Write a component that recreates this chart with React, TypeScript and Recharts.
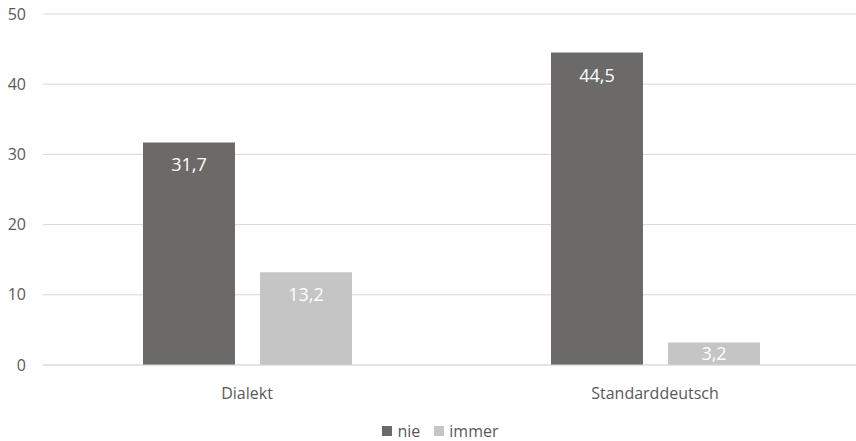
import { Bar, BarChart, CartesianGrid, LabelList, Legend, XAxis, YAxis } from "recharts";

const categories = ["Dialekt", "Standarddeutsch"];
const seriesNames = ["nie", "immer"];
const nieValues = [31.7, 44.5];
const immerValues = [13.2, 3.2];
const yTicks = [0, 10, 20, 30, 40, 50];

const FONT = "'Open Sans', 'Noto Sans', sans-serif";
const TEXT_COLOR = "#595959";
const GRID_COLOR = "#d9d9d9";
const NIE_COLOR = "#6b6a68";
const IMMER_COLOR = "#c4c5c4";

const data = categories.map((name, i) => ({
  name,
  nie: nieValues[i],
  immer: immerValues[i],
}));

const formatDecimal = (value: number) => value.toFixed(1).replace(".", ",");

// Excel-style label: inside end, or centered when the bar is too short
const renderBarLabel = (props: any) => {
  const { x, y, width, height, value } = props;
  const cx = Number(x) + Number(width) / 2;
  const h = Number(height);
  const baseline = h < 40 ? Number(y) + h / 2 + 6.5 : Number(y) + 29;
  return (
    <text
      x={cx}
      y={baseline}
      textAnchor="middle"
      fill="#ffffff"
      fontSize={18}
      fontFamily={FONT}
    >
      {formatDecimal(Number(value))}
    </text>
  );
};

const renderLegend = (props: any) => {
  const payload = [...(props.payload ?? [])].sort(
    (a: any, b: any) => seriesNames.indexOf(a.value) - seriesNames.indexOf(b.value)
  );
  return (
    <div
      style={{
        display: "flex",
        justifyContent: "center",
        alignItems: "center",
        height: 20,
        lineHeight: "20px",
        paddingLeft: 22,
        fontFamily: FONT,
        fontSize: 16,
        color: TEXT_COLOR,
      }}
    >
      {payload.map((entry: any, idx: number) => (
        <span
          key={entry.value}
          style={{
            display: "inline-flex",
            alignItems: "center",
            marginLeft: idx > 0 ? 14 : 0,
          }}
        >
          <span
            style={{
              display: "inline-block",
              width: 10,
              height: 10,
              background: entry.color,
              marginRight: 5,
            }}
          />
          {entry.value}
        </span>
      ))}
    </div>
  );
};

export default function App() {
  return (
    <div
      style={{
        position: "absolute",
        left: 0,
        top: 0,
        width: 856,
        height: 441,
        overflow: "hidden",
        background: "#ffffff",
      }}
    >
      <BarChart
        width={860}
        height={441}
        data={data}
        margin={{ top: 14, right: 1, bottom: 0, left: 0 }}
        barSize={92}
        barGap={25}
      >
        <CartesianGrid vertical={false} stroke={GRID_COLOR} />
        <XAxis
          dataKey="name"
          height={56}
          axisLine={{ stroke: GRID_COLOR }}
          tickLine={false}
          tickMargin={17}
          tick={{ fill: TEXT_COLOR, fontSize: 16, fontFamily: FONT }}
        />
        <YAxis
          width={43}
          domain={[0, 50]}
          ticks={yTicks}
          axisLine={false}
          tickLine={false}
          tickMargin={11}
          tick={{ fill: TEXT_COLOR, fontSize: 16, fontFamily: FONT }}
        />
        <Legend verticalAlign="bottom" content={renderLegend} />
        <Bar dataKey="nie" name="nie" fill={NIE_COLOR} isAnimationActive={false}>
          <LabelList dataKey="nie" content={renderBarLabel} />
        </Bar>
        <Bar dataKey="immer" name="immer" fill={IMMER_COLOR} isAnimationActive={false}>
          <LabelList dataKey="immer" content={renderBarLabel} />
        </Bar>
      </BarChart>
    </div>
  );
}
